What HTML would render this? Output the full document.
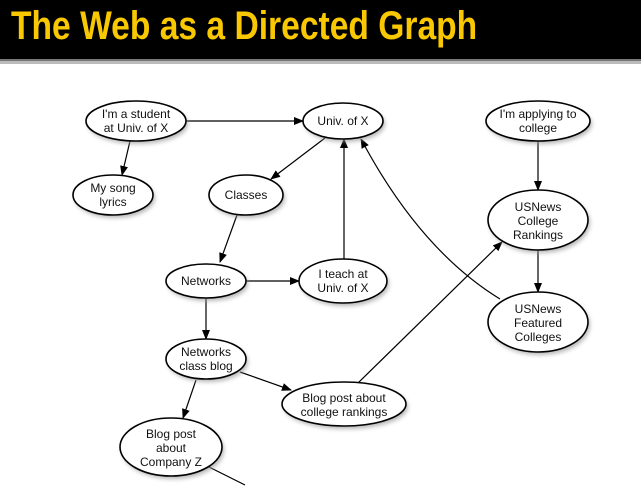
<!DOCTYPE html>
<html><head><meta charset="utf-8"><style>
html,body{margin:0;padding:0;background:#fff;}
.wrap{position:relative;width:641px;height:491px;overflow:hidden;}
.hdr{position:absolute;left:0;top:0;width:641px;height:59px;background:#000;}
.title{position:absolute;left:11px;top:4px;font-family:"Liberation Sans",sans-serif;font-weight:bold;font-size:40px;color:#f9c800;white-space:nowrap;transform:scaleX(0.84);transform-origin:0 0;}
svg{position:absolute;left:0;top:0;}
text{font-family:"Liberation Sans",sans-serif;font-size:12px;fill:#111;text-anchor:middle;}
</style></head><body><div class="wrap">
<div class="hdr"></div>
<div class="title">The Web as a Directed Graph</div>
<svg width="641" height="491" viewBox="0 0 641 491">
<defs><marker id="a" markerWidth="10" markerHeight="8" refX="9" refY="4" orient="auto" markerUnits="userSpaceOnUse"><path d="M0,0 L10,4 L0,8 z" fill="#000"/></marker>
<filter id="s" x="-20%" y="-20%" width="140%" height="150%"><feGaussianBlur stdDeviation="2"/></filter></defs>
<rect x="0" y="59" width="641" height="2" fill="#777"/>
<rect x="0" y="61" width="641" height="3" fill="#bbb"/>
<g stroke="#000" stroke-width="1.2" fill="none" marker-end="url(#a)">
<line x1="186" y1="121" x2="303" y2="121"/>
<line x1="130" y1="141" x2="122" y2="175"/>
<line x1="325" y1="138" x2="271" y2="179"/>
<line x1="237" y1="215" x2="220" y2="262"/>
<line x1="246" y1="281" x2="299" y2="281"/>
<line x1="344" y1="259" x2="344" y2="139"/>
<line x1="206" y1="298" x2="206" y2="339"/>
<line x1="240" y1="372" x2="291" y2="390"/>
<line x1="196" y1="380" x2="183" y2="418"/>
<line x1="358" y1="383" x2="502" y2="242"/>
<path d="M500,299 Q420,250 361,139"/>
<line x1="538" y1="141" x2="538" y2="190"/>
<line x1="538" y1="250" x2="538" y2="292"/>
</g>
<line x1="205" y1="465" x2="245" y2="485" stroke="#000" stroke-width="1.2"/>
<g fill="#999" filter="url(#s)" opacity="0.7">
<ellipse cx="138" cy="124" rx="50" ry="20"/><ellipse cx="345" cy="124" rx="40" ry="18"/>
<ellipse cx="115" cy="198" rx="40" ry="20"/><ellipse cx="248" cy="198" rx="37" ry="20"/>
<ellipse cx="208" cy="284" rx="40" ry="17"/><ellipse cx="345" cy="284" rx="44" ry="22"/>
<ellipse cx="208" cy="362" rx="40" ry="20"/><ellipse cx="346" cy="407" rx="62" ry="22"/>
<ellipse cx="173" cy="450" rx="51" ry="29"/><ellipse cx="540" cy="124" rx="52" ry="20"/>
<ellipse cx="540" cy="223" rx="50" ry="30"/><ellipse cx="540" cy="325" rx="50" ry="30"/>
</g>
<g fill="#fff" stroke="#000" stroke-width="1.6">
<ellipse cx="136" cy="121" rx="50" ry="20"/><ellipse cx="343" cy="121" rx="40" ry="18"/>
<ellipse cx="113" cy="195" rx="40" ry="20"/><ellipse cx="246" cy="195" rx="37" ry="20"/>
<ellipse cx="206" cy="281" rx="40" ry="17"/><ellipse cx="343" cy="281" rx="44" ry="22"/>
<ellipse cx="206" cy="359" rx="40" ry="20"/><ellipse cx="344" cy="404" rx="62" ry="22"/>
<ellipse cx="171" cy="447" rx="51" ry="29"/><ellipse cx="538" cy="121" rx="52" ry="20"/>
<ellipse cx="538" cy="220" rx="50" ry="30"/><ellipse cx="538" cy="322" rx="50" ry="30"/>
</g>
<text x="136" y="118">I'm a student</text><text x="136" y="132">at Univ. of X</text>
<text x="343" y="125">Univ. of X</text>
<text x="113" y="192">My song</text><text x="113" y="206">lyrics</text>
<text x="246" y="199">Classes</text>
<text x="206" y="285">Networks</text>
<text x="343" y="278">I teach at</text><text x="343" y="292">Univ. of X</text>
<text x="206" y="356">Networks</text><text x="206" y="370">class blog</text>
<text x="344" y="402">Blog post about</text><text x="344" y="416">college rankings</text>
<text x="171" y="438">Blog post</text><text x="171" y="452">about</text><text x="171" y="466">Company Z</text>
<text x="538" y="118">I'm applying to</text><text x="538" y="132">college</text>
<text x="538" y="211">USNews</text><text x="538" y="225">College</text><text x="538" y="239">Rankings</text>
<text x="538" y="313">USNews</text><text x="538" y="327">Featured</text><text x="538" y="341">Colleges</text>
</svg>
</div></body></html>
